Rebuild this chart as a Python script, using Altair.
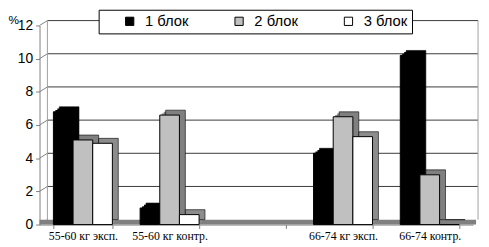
import altair as alt
import pandas as pd

categories = ["55-60 кг эксп.", "55-60 кг контр.", " ", "66-74 кг эксп.", "66-74 контр."]
series = ["1 блок", "2 блок", "3 блок"]
block1 = [6.8, 1.0, None, 4.3, 10.2]
block2 = [5.1, 6.6, None, 6.5, 3.0]
block3 = [4.9, 0.6, None, 5.3, 0.0]
y_ticks = [0, 2, 4, 6, 8, 10, 12]

front_colors = ["#000000", "#c0c0c0", "#ffffff"]
side_colors = ["#000000", "#808080", "#8c8c8c"]
side_names = [s + " (side)" for s in series]

rows = []
for i, c in enumerate(categories):
    for s, sn, vals in zip(series, side_names, [block1, block2, block3]):
        if vals[i] is not None:
            rows.append({"cat": c, "block": s, "side": sn, "value": vals[i]})
df = pd.DataFrame(rows)
grid_df = pd.DataFrame({"v": y_ticks[1:]})
tick_df = pd.DataFrame({"v": y_ticks})
wall_df = pd.DataFrame({"lo": [y_ticks[0]], "hi": [y_ticks[-1]]})

W, H = 440, 202
DX, DY = 6, -5
WALL = 8
P_IN, P_OUT = 0.32, 0.16
STEP = W / (len(categories) - P_IN + 2 * P_OUT)
BW = STEP * (1 - P_IN)

yscale = alt.Scale(domain=[0, 12])
xscale = alt.Scale(domain=categories, paddingInner=P_IN, paddingOuter=P_OUT)
cscale = alt.Scale(domain=series, range=front_colors)

y_axis = alt.Axis(values=y_ticks, grid=False, title="%", titleAngle=0,
                  titleX=-32, titleY=-6, titleAlign="left", titleBaseline="middle",
                  titleFont="Liberation Sans", titleFontWeight="normal",
                  titleFontSize=12, titleColor="#000",
                  labelFont="Liberation Sans", labelFontSize=14, labelColor="#000",
                  tickSize=4, labelPadding=3, domainColor="#808080",
                  tickColor="#808080")

x_enc = alt.X("cat:N", scale=xscale, sort=categories,
              axis=alt.Axis(title=None, labelFont="Liberation Serif", labelFontSize=12,
                            labelColor="#000", tickBand="extent", tickSize=4,
                            tickColor="#808080", domainColor="#808080", labelPadding=2,
                            labelAngle=0))
y_enc = alt.Y("value:Q", scale=yscale, axis=y_axis)

grid = alt.Chart(grid_df).mark_rule(yOffset=DY, color="#3a3a3a", strokeWidth=1).encode(
    y=alt.Y("v:Q", scale=yscale, axis=y_axis),
    x=alt.value(WALL), x2=alt.value(W + 5),
)
diag = alt.Chart(tick_df).mark_rule(yOffset=0, y2Offset=DY, color="#808080", strokeWidth=1).encode(
    y=alt.Y("v:Q", scale=yscale, axis=y_axis), y2="v:Q",
    x=alt.value(0), x2=alt.value(WALL),
)
back_left = alt.Chart(wall_df).mark_rule(yOffset=DY, y2Offset=DY, color="#a0a0a0").encode(
    y=alt.Y("lo:Q", scale=yscale, axis=y_axis), y2="hi:Q", x=alt.value(WALL)
)
back_right = alt.Chart(wall_df).mark_rule(yOffset=DY, y2Offset=DY, color="#a0a0a0").encode(
    y=alt.Y("lo:Q", scale=yscale, axis=y_axis), y2="hi:Q", x=alt.value(W + 5)
)
floor = alt.Chart(wall_df).mark_rule(yOffset=-2.5, color="#808080", strokeWidth=5).encode(
    y=alt.Y("lo:Q", scale=yscale, axis=y_axis), x=alt.value(0), x2=alt.value(W + 3)
)


def depth_layer(frac, stroke_w):
    dx, dy = DX * frac, DY * frac
    return alt.Chart(df).mark_bar(yOffset=dy, stroke="#000", strokeWidth=stroke_w).encode(
        x=x_enc,
        xOffset=alt.XOffset("block:N", scale=alt.Scale(domain=series, range=[dx, BW + dx])),
        y=y_enc,
        fill=alt.Fill("side:N", scale=alt.Scale(domain=side_names, range=side_colors),
                      legend=None),
    )


depth1 = depth_layer(1 / 3, 0)
depth2 = depth_layer(2 / 3, 0)
depth3 = depth_layer(1.0, 0.6)

front = alt.Chart(df).mark_bar(stroke="#000", strokeWidth=1).encode(
    x=x_enc,
    xOffset=alt.XOffset("block:N", scale=alt.Scale(domain=series, range=[0, BW])),
    y=y_enc,
    color=alt.Color("block:N", scale=cscale,
                    legend=alt.Legend(title=None, orient="none", legendX=60, legendY=-16,
                                      direction="horizontal", fillColor="white",
                                      strokeColor="black", padding=4,
                                      symbolType="square", symbolSize=70,
                                      symbolStrokeColor="#000", symbolStrokeWidth=1,
                                      symbolOffset=20, labelOffset=8,
                                      labelFont="Liberation Sans", labelFontSize=15,
                                      labelColor="#000", columnPadding=23)),
)

chart = alt.layer(grid, back_left, back_right, diag, floor, depth1, depth2, depth3,
                  front).resolve_scale(
    xOffset="independent"
).properties(
    width=W, height=H,
    autosize=alt.AutoSizeParams(type="none"),
    padding={"left": 32, "top": 16, "right": 8, "bottom": 21},
).configure_view(stroke=None)

chart.save("out.html", embed_options={"renderer": "svg", "actions": False})
